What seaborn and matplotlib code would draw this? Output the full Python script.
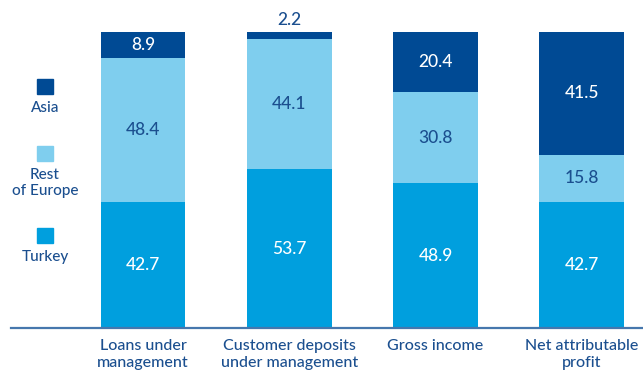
import matplotlib
matplotlib.use("Agg")
import matplotlib.pyplot as plt
from matplotlib.patches import Rectangle
import seaborn as sns
import numpy as np
import pandas as pd

categories = ["Loans under\nmanagement", "Customer deposits\nunder management",
              "Gross income", "Net attributable\nprofit"]
turkey = [42.7, 53.7, 48.9, 42.7]
rest_of_europe = [48.4, 44.1, 30.8, 15.8]
asia = [8.9, 2.2, 20.4, 41.5]
series_names = ["Asia", "Rest\nof Europe", "Turkey"]

C_ASIA = "#004A94"
C_EUROPE = "#7FCEEE"
C_TURKEY = "#009FDE"
C_TEXT = "#1B4F8F"
C_AXIS = "#4677AD"

sns.set_theme(style="white")
plt.rcParams["font.family"] = ["Lato", "DejaVu Sans"]
plt.rcParams["font.weight"] = "medium"

fig = plt.figure(figsize=(6.43, 3.71), dpi=100)
W, H = 643, 371
ax = fig.add_axes([11 / W, 43 / H, (643 - 11) / W, (328 - 32) / H])

t = np.array(turkey)
e = np.array(rest_of_europe)
a = np.array(asia)
df = pd.DataFrame({"cat": categories, "turkey": t, "te": t + e, "tea": t + e + a})

# stacked columns: draw cumulative totals from the top segment down
for col, color in [("tea", C_ASIA), ("te", C_EUROPE), ("turkey", C_TURKEY)]:
    sns.barplot(data=df, x="cat", y=col, color=color, width=0.58,
                saturation=1, ax=ax, linewidth=0)

# segment value labels
fs = 12.5
for i in range(len(categories)):
    ax.text(i, t[i] / 2, f"{t[i]:.1f}", ha="center", va="center",
            color="white", fontsize=fs)
    ax.text(i, t[i] + e[i] / 2, f"{e[i]:.1f}", ha="center", va="center",
            color=C_TEXT, fontsize=fs)
    top = t[i] + e[i]
    if a[i] < 5:
        ax.text(i, top + a[i] + 1.2, f"{a[i]:.1f}", ha="center", va="bottom",
                color=C_TEXT, fontsize=fs)
    else:
        ax.text(i, top + a[i] / 2, f"{a[i]:.1f}", ha="center", va="center",
                color="white", fontsize=fs)

ax.set_xlim(-0.902, 3.418)
ax.set_ylim(0, 100)
ax.set_xlabel("")
ax.set_ylabel("")
ax.set_yticks([])
ax.tick_params(axis="x", length=0, pad=8, labelsize=11.5, labelcolor=C_TEXT)
for lbl in ax.get_xticklabels():
    lbl.set_linespacing(1.3)
    lbl.set_va("top")
for side in ["top", "right", "left"]:
    ax.spines[side].set_visible(False)
ax.spines["bottom"].set_color(C_AXIS)
ax.spines["bottom"].set_linewidth(1.6)
ax.set_facecolor("none")

# legend: swatch above each label, stacked vertically at the left
legend_items = [(C_ASIA, series_names[0], 79, 108),
                (C_EUROPE, series_names[1], 146, 183),
                (C_TURKEY, series_names[2], 228, 257)]
for color, name, sq_top, txt_y in legend_items:
    fig.patches.append(Rectangle((37 / W, 1 - (sq_top + 15) / H), 16 / W, 15 / H,
                                 transform=fig.transFigure, color=color))
    fig.text(45 / W, 1 - txt_y / H, name, ha="center", va="center",
             color=C_TEXT, fontsize=11, linespacing=1.1)

fig.savefig("out.png", dpi=100)
